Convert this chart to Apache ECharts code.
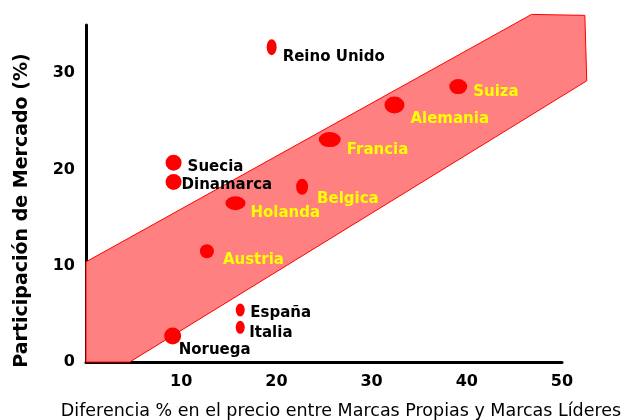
<!DOCTYPE html>
<html>
<head>
<meta charset="utf-8">
<script src="https://cdn.jsdelivr.net/npm/echarts@6/dist/echarts.min.js"></script>
<style>
  html, body { margin: 0; padding: 0; background: #fff; }
  #chart { width: 627px; height: 420px; }
</style>
</head>
<body>
<div id="chart"></div>
<script>
// paises y valores
const countries = ['Reino Unido', 'Suecia', 'Dinamarca', 'Holanda', 'Belgica', 'Francia',
  'Alemania', 'Suiza', 'Austria', 'España', 'Italia', 'Noruega'];
const priceDiff = [19.5, 9.2, 9.2, 15.7, 22.7, 25.6, 32.4, 39.1, 12.7, 16.2, 16.2, 9.1];
const marketShare = [32.7, 20.7, 18.7, 16.5, 18.2, 23.1, 26.7, 28.6, 11.5, 5.4, 3.6, 2.7];
// paises dentro de la banda (etiqueta amarilla)
const insideBand = ['Holanda', 'Belgica', 'Francia', 'Alemania', 'Suiza', 'Austria'];

// vertices de la banda (flecha) en unidades de los ejes
const bandX = [0, 46.8, 52.4, 52.6, 4.6, 0];
const bandY = [10.4, 36.1, 36.0, 29.2, 0, 0];

const xTicks = [10, 20, 30, 40, 50];
const yTicks = [0, 10, 20, 30];

// tamaño de cada punto y desplazamiento de su etiqueta (px)
const dotSize = [[10, 16], [16, 16], [16, 16], [20, 14], [12, 16], [22, 15],
  [20, 17], [18, 15], [14, 14], [9, 13], [9, 13], [17, 17]];
const labelShift = [[11, 10], [14, 4], [8, 3], [15, 10], [15, 12], [17, 11],
  [16, 14], [15, 5], [16, 9], [10, 3], [9, 6], [6, 14]];

const chart = echarts.init(document.getElementById('chart'));

const points = countries.map((name, i) => ({
  name: name,
  value: [priceDiff[i], marketShare[i]],
  symbolSize: dotSize[i],
  label: {
    offset: labelShift[i],
    color: insideBand.includes(name) ? '#ffff00' : '#000000'
  }
}));

const option = {
  animation: false,
  backgroundColor: '#ffffff',
  grid: { left: 86, right: 65, top: 25, bottom: 58, containLabel: false, outerBoundsMode: 'none' },
  xAxis: {
    type: 'value',
    min: 0,
    max: 50,
    interval: 10,
    name: 'Diferencia % en el precio entre Marcas Propias y Marcas Líderes',
    nameLocation: 'middle',
    nameGap: 40,
    nameTextStyle: {
      fontFamily: 'DejaVu Sans', fontSize: 17.5, color: '#000', padding: [0, 0, 0, 34]
    },
    axisLine: { show: true, lineStyle: { color: '#000', width: 3 } },
    axisTick: { show: false },
    splitLine: { show: false },
    axisLabel: {
      margin: 12,
      fontFamily: 'DejaVu Sans', fontWeight: 'bold', fontSize: 16, color: '#000',
      formatter: v => (xTicks.includes(v) ? String(v) : '')
    }
  },
  yAxis: {
    type: 'value',
    min: 0,
    max: 35,
    interval: 10,
    name: 'Participación de Mercado (%)',
    nameLocation: 'middle',
    nameGap: 54,
    nameTextStyle: {
      fontFamily: 'DejaVu Sans', fontWeight: 'bold', fontSize: 19, color: '#000', padding: [0, 34, 0, 0]
    },
    axisLine: { show: true, lineStyle: { color: '#000', width: 3 } },
    axisTick: { show: false },
    splitLine: { show: false },
    axisLabel: {
      margin: 11,
      fontFamily: 'DejaVu Sans', fontWeight: 'bold', fontSize: 16, color: '#000',
      formatter: v => (yTicks.includes(v) ? String(v) : '')
    }
  },
  series: [
    {
      // banda roja translucida
      type: 'custom',
      z: 1,
      silent: true,
      clip: false,
      data: [[0, 0]],
      renderItem: (params, api) => {
        const pts = bandX.map((x, i) => api.coord([x, bandY[i]]));
        return {
          type: 'polygon',
          shape: { points: pts },
          style: { fill: '#ff8080', stroke: '#ff0000', lineWidth: 1 }
        };
      }
    },
    {
      type: 'scatter',
      z: 3,
      symbol: 'circle',
      itemStyle: { color: '#ff0000', opacity: 1 },
      label: {
        show: true,
        position: 'inside',
        align: 'left',
        verticalAlign: 'middle',
        fontFamily: 'DejaVu Sans',
        fontWeight: 'bold',
        fontSize: 15,
        formatter: p => p.name
      },
      data: points
    }
  ]
};

chart.setOption(option);
</script>
</body>
</html>
